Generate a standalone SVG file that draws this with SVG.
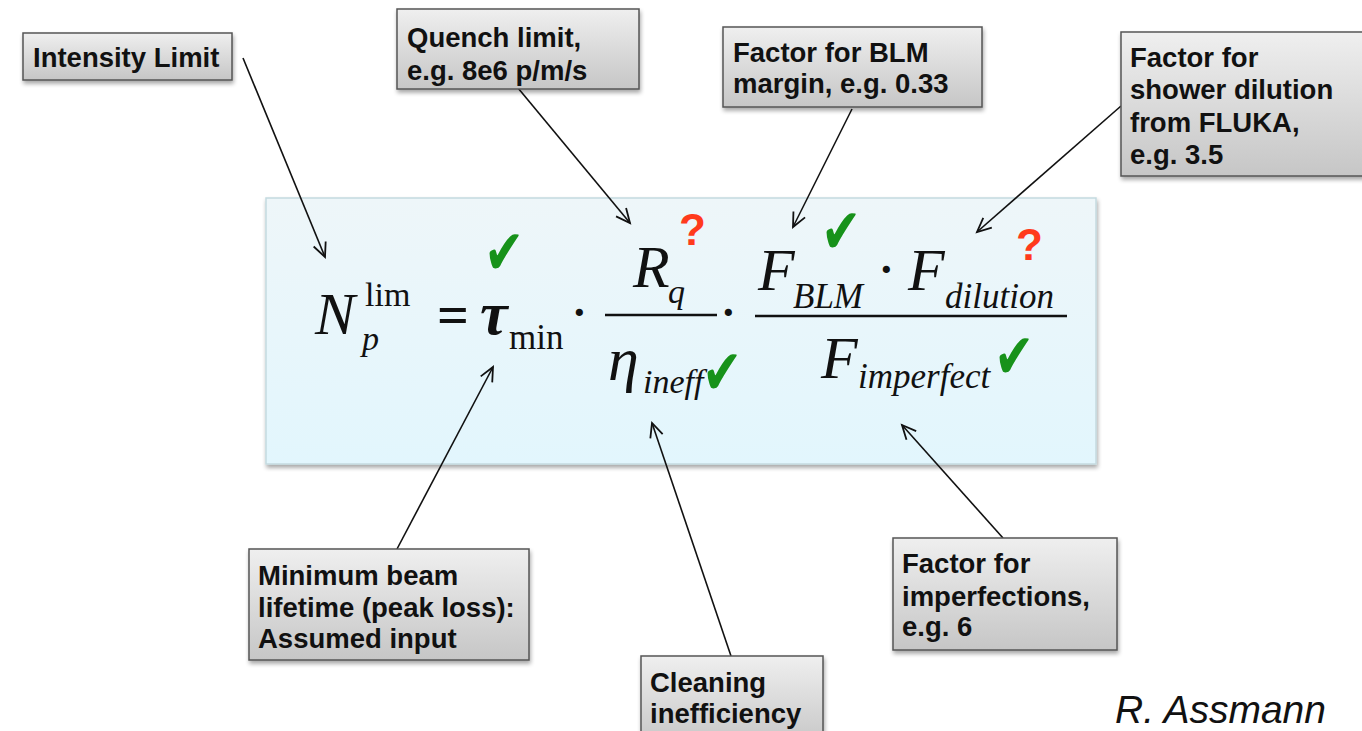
<svg xmlns="http://www.w3.org/2000/svg" width="1362" height="731" viewBox="0 0 1362 731">
<defs>
<linearGradient id="boxg" x1="0" y1="0" x2="0" y2="1">
<stop offset="0" stop-color="#efefef"/>
<stop offset="1" stop-color="#c6c6c6"/>
</linearGradient>
<linearGradient id="fg" x1="0" y1="0" x2="0" y2="1">
<stop offset="0" stop-color="#eef6f9"/>
<stop offset="1" stop-color="#e2f6fd"/>
</linearGradient>
<filter id="sh" x="-10%" y="-10%" width="130%" height="140%">
<feGaussianBlur in="SourceAlpha" stdDeviation="2"/>
<feOffset dx="1" dy="3" result="b"/>
<feComponentTransfer><feFuncA type="linear" slope="0.35"/></feComponentTransfer>
<feMerge><feMergeNode/><feMergeNode in="SourceGraphic"/></feMerge>
</filter>
<marker id="arr" markerUnits="userSpaceOnUse" markerWidth="18" markerHeight="18" refX="15" refY="8" orient="auto" viewBox="0 0 18 16">
<path d="M1,1.5 L15,8 L1,14.5" fill="none" stroke="#111" stroke-width="1.8"/>
</marker>
<style>
.lbl rect{fill:url(#boxg);stroke:#555;stroke-width:1.5;filter:url(#sh)}
.lbl text{font-family:"Liberation Sans",Arial,sans-serif;font-weight:bold;font-size:27.5px;fill:#111}
.m{font-family:"Liberation Serif","Times New Roman",serif;fill:#111}
.i{font-style:italic}
.dot{font-family:"Liberation Serif","Times New Roman",serif;fill:#111;font-size:44px;font-weight:bold}
.ck{font-family:"DejaVu Sans",sans-serif;fill:#17921a;font-size:60px}
.q{font-family:"Liberation Sans",Arial,sans-serif;font-weight:bold;fill:#ff3a1c;font-size:44px}
.con line{stroke:#111;stroke-width:1.6;marker-end:url(#arr)}
</style>
</defs>
<rect width="1362" height="731" fill="#ffffff"/>

<g id="formula">
<rect x="266" y="198" width="830" height="266" fill="url(#fg)" stroke="#c4dadf" stroke-width="1.5" filter="url(#sh)"/>
<text class="m i" x="315" y="334" font-size="60">N</text>
<text class="m" x="365" y="306" font-size="34">lim</text>
<text class="m i" x="362" y="350" font-size="34">p</text>
<text class="m" x="437" y="334" font-size="56" font-weight="bold">=</text>
<text class="m i" x="480" y="334" font-size="62" font-weight="bold">τ</text>
<text class="m" x="509" y="349" font-size="35">min</text>
<text class="dot" x="572" y="327">·</text>
<text class="m i" x="633" y="287" font-size="60">R</text>
<text class="m i" x="668" y="303" font-size="34">q</text>
<line x1="605" y1="315" x2="717" y2="315" stroke="#111" stroke-width="2.5"/>
<text class="m i" x="608" y="380" font-size="62">η</text>
<text class="m i" x="643" y="393" font-size="34">ineff</text>
<text class="dot" x="721" y="327">·</text>
<text class="m i" x="758" y="290" font-size="60">F</text>
<text class="m i" x="793" y="308" font-size="35">BLM</text>
<text class="dot" x="879" y="284">·</text>
<text class="m i" x="908" y="290" font-size="60">F</text>
<text class="m i" x="945" y="308" font-size="35">dilution</text>
<line x1="755" y1="316" x2="1067" y2="316" stroke="#111" stroke-width="2.5"/>
<text class="m i" x="821" y="378" font-size="60">F</text>
<text class="m i" x="858" y="388" font-size="35">imperfect</text>
<text class="ck" transform="translate(484,274) scale(0.8,1.05)">✔</text>
<text class="ck" transform="translate(702,394) scale(0.8,1.05)">✔</text>
<text class="ck" transform="translate(821,253) scale(0.8,1.05)">✔</text>
<text class="ck" transform="translate(994,378) scale(0.8,1.05)">✔</text>
<text class="q" x="679" y="245">?</text>
<text class="q" x="1016" y="260">?</text>
</g>

<g id="connectors" class="con">
<line x1="243" y1="58" x2="325" y2="257"/>
<line x1="518" y1="88" x2="630" y2="223"/>
<line x1="852" y1="109" x2="793" y2="227"/>
<line x1="1121" y1="106" x2="977" y2="232"/>
<line x1="397" y1="549" x2="493" y2="367"/>
<line x1="731" y1="656" x2="652" y2="423"/>
<line x1="1003" y1="538" x2="902" y2="425"/>
</g>

<g id="intensity-limit" class="lbl">
<rect x="23" y="33" width="209" height="47"/>
<text x="33" y="67">Intensity Limit</text>
</g>
<g id="quench-limit" class="lbl">
<rect x="397" y="9" width="242" height="80"/>
<text x="407" y="47">Quench limit,</text>
<text x="407" y="80">e.g. 8e6 p/m/s</text>
</g>
<g id="blm-margin" class="lbl">
<rect x="723" y="27" width="259" height="80"/>
<text x="733" y="62">Factor for BLM</text>
<text x="733" y="93">margin, e.g. 0.33</text>
</g>
<g id="shower-dilution" class="lbl">
<rect x="1121" y="32" width="245" height="144"/>
<text x="1130" y="67">Factor for</text>
<text x="1130" y="99">shower dilution</text>
<text x="1130" y="132">from FLUKA,</text>
<text x="1130" y="164">e.g. 3.5</text>
</g>
<g id="min-beam-lifetime" class="lbl">
<rect x="249" y="549" width="280" height="111"/>
<text x="258" y="585">Minimum beam</text>
<text x="258" y="617">lifetime (peak loss):</text>
<text x="258" y="648">Assumed input</text>
</g>
<g id="cleaning-inefficiency" class="lbl">
<rect x="641" y="656" width="182" height="90"/>
<text x="650" y="692">Cleaning</text>
<text x="650" y="723">inefficiency</text>
</g>
<g id="imperfections" class="lbl">
<rect x="893" y="538" width="224" height="112"/>
<text x="902" y="573">Factor for</text>
<text x="902" y="606">imperfections,</text>
<text x="902" y="636">e.g. 6</text>
</g>

<text id="author" x="1115" y="723" font-family="'Liberation Sans',Arial,sans-serif" font-style="italic" font-size="39" fill="#111">R. Assmann</text>
</svg>
